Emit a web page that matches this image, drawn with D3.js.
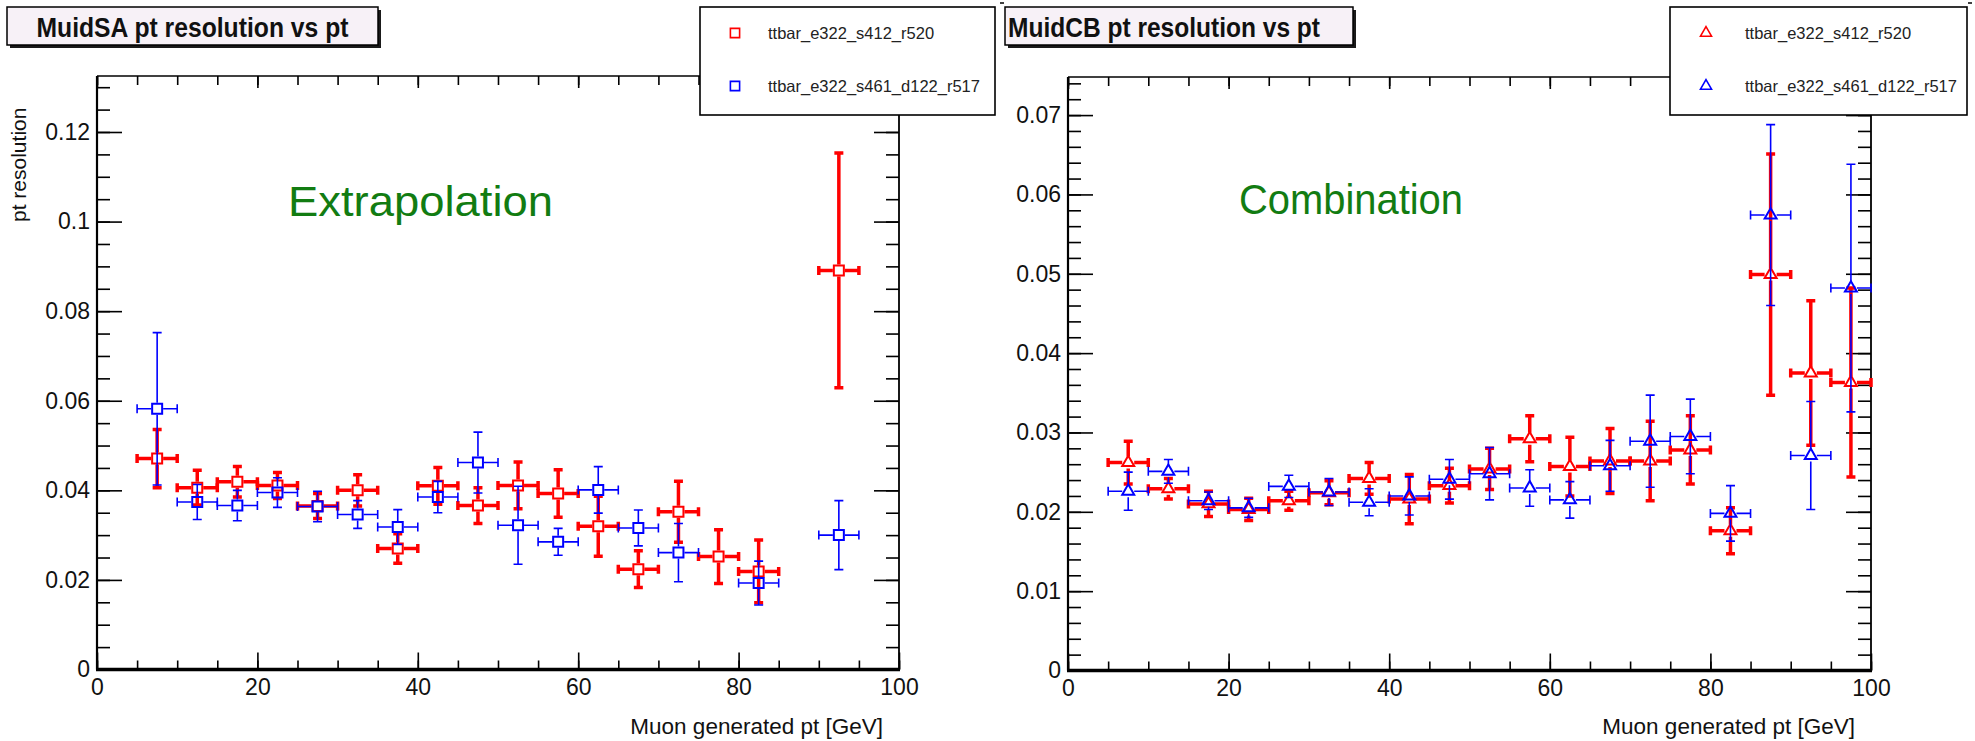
<!DOCTYPE html>
<html lang="en">
<head>
  <meta charset="UTF-8">
  <title>Muid pt resolution vs pt</title>
  <script src="https://cdn.jsdelivr.net/npm/d3@7"></script>
  <style>
    body { margin: 0; background: #fff; }
    svg { display: block; }
    text { font-family: "Liberation Sans", Arial, sans-serif; }
  </style>
</head>
<body>
<svg id="chart" width="1975" height="741"></svg>
<script>
  // bins of 5 GeV, centres from 7.5 to 97.5
  var binCenters = [7.5, 12.5, 17.5, 22.5, 27.5, 32.5, 37.5, 42.5, 47.5, 52.5, 57.5, 62.5, 67.5, 72.5, 77.5, 82.5, 87.5, 92.5, 97.5];
  var binHalfWidth = 2.5;

  var seriesNames = ["ttbar_e322_s412_r520", "ttbar_e322_s461_d122_r517"];
  var titles = ["MuidSA pt resolution vs pt", "MuidCB pt resolution vs pt"];
  var notes = ["Extrapolation", "Combination"];
  var xLabel = "Muon generated pt [GeV]";
  var yLabel = "pt resolution";

  var xTicks = [0, 20, 40, 60, 80, 100];
  var saYTicks = [0, 0.02, 0.04, 0.06, 0.08, 0.1, 0.12];
  var cbYTicks = [0, 0.01, 0.02, 0.03, 0.04, 0.05, 0.06, 0.07];

  // MuidSA (left)
  var saRedVal = [0.0471, 0.0406, 0.0419, 0.0411, 0.0365, 0.0400, 0.0270, 0.0410, 0.0366, 0.0411, 0.0393, 0.0320, 0.0224, 0.0352, 0.0252, 0.0219, null, 0.0891, null];
  var saRedErr = [0.0065, 0.0039, 0.0034, 0.0029, 0.0028, 0.0035, 0.0033, 0.0041, 0.0040, 0.0052, 0.0053, 0.0067, 0.0041, 0.0068, 0.0060, 0.0070, null, 0.0262, null];
  var saBlueVal = [0.0582, 0.0374, 0.0366, 0.0395, 0.0364, 0.0346, 0.0318, 0.0385, 0.0462, 0.0322, 0.0285, 0.0401, 0.0316, 0.0261, null, 0.0193, null, 0.0300, null];
  var saBlueErr = [0.0170, 0.0039, 0.0034, 0.0033, 0.0034, 0.0031, 0.0039, 0.0035, 0.0068, 0.0087, 0.0030, 0.0052, 0.0040, 0.0065, null, 0.0049, null, 0.0077, null];

  // MuidCB (right)
  var cbRedVal = [0.0262, 0.0229, 0.0210, 0.0203, 0.0214, 0.0224, 0.0242, 0.0216, 0.0233, 0.0254, 0.0292, 0.0257, 0.0264, 0.0264, 0.0278, 0.0176, 0.0499, 0.0375, 0.0363];
  var cbRedErr = [0.0027, 0.0013, 0.0016, 0.0014, 0.0012, 0.0015, 0.0020, 0.0031, 0.0022, 0.0026, 0.0029, 0.0037, 0.0041, 0.0050, 0.0043, 0.0029, 0.0152, 0.0091, 0.0119];
  var cbBlueVal = [0.0226, 0.0251, 0.0214, 0.0205, 0.0232, 0.0225, 0.0212, 0.0220, 0.0241, 0.0248, 0.0230, 0.0215, 0.0258, 0.0289, 0.0295, 0.0198, 0.0574, 0.0271, 0.0482];
  var cbBlueErr = [0.0024, 0.0015, 0.0011, 0.0012, 0.0014, 0.0017, 0.0017, 0.0024, 0.0025, 0.0033, 0.0023, 0.0023, 0.0032, 0.0058, 0.0047, 0.0035, 0.0114, 0.0068, 0.0156];

  var RED = "#ff0000", BLUE = "#0000ff";

  var svg = d3.select("#chart");
  svg.append("rect").attr("width", 1975).attr("height", 741).attr("fill", "#fff");

  var panels = [
    {
      left: 97, right: 899, top: 76, bottom: 669.5, yMax: 0.1325, yMinor: 0.005, yTicks: saYTicks,
      symbol: d3.symbolSquare, symSize: 100,
      series: [[saRedVal, saRedErr, RED, 3.5], [saBlueVal, saBlueErr, BLUE, 1.6]],
      title: titles[0], titleBox: [7, 378], titleAnchor: "middle",
      legend: [700, 995], legMarker: 35, legText: 68,
      note: notes[0], noteX: 288, noteY: 216, noteLen: 265, yLabel: true
    },
    {
      left: 1068, right: 1871, top: 77, bottom: 670.5, yMax: 0.0748, yMinor: 0.002, yTicks: cbYTicks,
      symbol: d3.symbolTriangle, symSize: 62,
      series: [[cbRedVal, cbRedErr, RED, 3.5], [cbBlueVal, cbBlueErr, BLUE, 1.6]],
      title: titles[1], titleBox: [1005, 1353], titleAnchor: "start",
      legend: [1670, 1967], legMarker: 36, legText: 75,
      note: notes[1], noteX: 1239, noteY: 214, noteLen: 224, yLabel: false
    }
  ];

  function styleAxis(sel) {
    sel.select(".domain").remove();
    sel.selectAll("line").attr("stroke", "#000").attr("stroke-width", 1.6);
    sel.attr("font-size", 23).attr("font-family", "Liberation Sans, Arial, sans-serif");
    sel.selectAll("text").attr("fill", "#111");
    return sel;
  }

  function drawPanel(p) {
    var x = d3.scaleLinear().domain([0, 100]).range([p.left, p.right]);
    var y = d3.scaleLinear().domain([0, p.yMax]).range([p.bottom, p.top]);
    var g = svg.append("g");

    var yMinorTicks = d3.range(0, Math.floor(p.yMax / p.yMinor + 1e-6) + 1).map(function (i) { return +(i * p.yMinor).toFixed(4); });
    var xMinorTicks = d3.range(0, 101, 5);
    var fmt = d3.format("~g");

    // ticks pointing into the frame, on all four sides
    g.append("g").attr("transform", "translate(" + p.left + ",0)")
      .call(d3.axisLeft(y).tickValues(yMinorTicks).tickSize(-13).tickFormat("")).call(styleAxis);
    g.append("g").attr("transform", "translate(" + p.left + ",0)")
      .call(d3.axisLeft(y).tickValues(p.yTicks).tickSize(-25).tickPadding(7).tickFormat(fmt)).call(styleAxis);
    g.append("g").attr("transform", "translate(" + p.right + ",0)")
      .call(d3.axisRight(y).tickValues(yMinorTicks).tickSize(-13).tickFormat("")).call(styleAxis);
    g.append("g").attr("transform", "translate(" + p.right + ",0)")
      .call(d3.axisRight(y).tickValues(p.yTicks).tickSize(-25).tickFormat("")).call(styleAxis);
    g.append("g").attr("transform", "translate(0," + p.bottom + ")")
      .call(d3.axisBottom(x).tickValues(xMinorTicks).tickSize(-9).tickFormat("")).call(styleAxis);
    g.append("g").attr("transform", "translate(0," + p.bottom + ")")
      .call(d3.axisBottom(x).tickValues(xTicks).tickSize(-17).tickPadding(9).tickFormat(fmt)).call(styleAxis);
    g.append("g").attr("transform", "translate(0," + p.top + ")")
      .call(d3.axisTop(x).tickValues(xMinorTicks).tickSize(-9).tickFormat("")).call(styleAxis);
    g.append("g").attr("transform", "translate(0," + p.top + ")")
      .call(d3.axisTop(x).tickValues(xTicks).tickSize(-12).tickFormat("")).call(styleAxis);

    // frame
    g.append("line").attr("x1", p.left).attr("x2", p.right).attr("y1", p.top).attr("y2", p.top)
      .attr("stroke", "#000").attr("stroke-width", 1.6);
    g.append("line").attr("x1", p.right).attr("x2", p.right).attr("y1", p.top).attr("y2", p.bottom)
      .attr("stroke", "#000").attr("stroke-width", 1.8);
    g.append("line").attr("x1", p.left).attr("x2", p.left).attr("y1", p.top).attr("y2", p.bottom)
      .attr("stroke", "#000").attr("stroke-width", 2.2);
    g.append("line").attr("x1", p.left - 1).attr("x2", p.right + 1).attr("y1", p.bottom).attr("y2", p.bottom)
      .attr("stroke", "#000").attr("stroke-width", 3.6);

    // axis titles
    g.append("text").attr("x", p.right - 16).attr("y", 734).attr("text-anchor", "end")
      .attr("font-size", 22.5).attr("fill", "#111").text(xLabel);
    if (p.yLabel) {
      g.append("text").attr("transform", "translate(26,222) rotate(-90)")
        .attr("font-size", 21).attr("fill", "#111").text(yLabel);
    }

    // error bars with a gap round the marker, then hollow markers
    var gap = 6, cap = 4.5;
    p.series.forEach(function (s) {
      var pts = binCenters.map(function (c, i) { return { c: c, v: s[0][i], e: s[1][i] }; })
        .filter(function (d) { return d.v != null; });
      g.append("g").selectAll("path").data(pts).join("path")
        .attr("fill", "none").attr("stroke", s[2]).attr("stroke-width", s[3])
        .attr("d", function (d) {
          var cx = x(d.c), cy = y(d.v);
          var xl = x(Math.max(d.c - binHalfWidth, 0)), xr = x(Math.min(d.c + binHalfWidth, 100));
          var yt = y(d.v + d.e), yb = y(d.v - d.e);
          var path = d3.path();
          function seg(x1, y1, x2, y2) { path.moveTo(x1, y1); path.lineTo(x2, y2); }
          seg(xl, cy, cx - gap, cy);
          seg(cx + gap, cy, xr, cy);
          if (cy - gap > yt) seg(cx, yt, cx, cy - gap);
          if (cy + gap < yb) seg(cx, cy + gap, cx, yb);
          seg(xl, cy - cap, xl, cy + cap);
          seg(xr, cy - cap, xr, cy + cap);
          seg(cx - cap, yt, cx + cap, yt);
          seg(cx - cap, yb, cx + cap, yb);
          return path.toString();
        });
      g.append("g").selectAll("path").data(pts).join("path")
        .attr("transform", function (d) { return "translate(" + x(d.c) + "," + y(d.v) + ")"; })
        .attr("d", d3.symbol().type(p.symbol).size(p.symSize))
        .attr("fill", "none").attr("stroke", s[2]).attr("stroke-width", 2);
    });

    // legend
    var lg = svg.append("g");
    lg.append("rect").attr("x", p.legend[0]).attr("y", 7).attr("width", p.legend[1] - p.legend[0]).attr("height", 108)
      .attr("fill", "#fff").attr("stroke", "#000").attr("stroke-width", 1.6);
    var rows = [{ name: seriesNames[0], color: RED, y: 33 }, { name: seriesNames[1], color: BLUE, y: 86 }];
    lg.selectAll("path").data(rows).join("path")
      .attr("transform", function (d) { return "translate(" + (p.legend[0] + p.legMarker) + "," + d.y + ")"; })
      .attr("d", d3.symbol().type(p.symbol).size(p.symSize * 0.85))
      .attr("fill", "none").attr("stroke", function (d) { return d.color; }).attr("stroke-width", 1.6);
    lg.selectAll("text").data(rows).join("text")
      .attr("x", p.legend[0] + p.legText).attr("y", function (d) { return d.y + 6; })
      .attr("font-size", 16.5).attr("fill", "#222").text(function (d) { return d.name; });

    // title box with shadow
    var tg = svg.append("g");
    var bx = p.titleBox[0], bw = p.titleBox[1] - p.titleBox[0];
    tg.append("rect").attr("x", bx + 3).attr("y", 10).attr("width", bw).attr("height", 38).attr("fill", "#1a1a1a");
    tg.append("rect").attr("x", bx).attr("y", 7).attr("width", bw).attr("height", 38)
      .attr("fill", "#f7f1f7").attr("stroke", "#000").attr("stroke-width", 1.5);
    tg.append("text")
      .attr("x", p.titleAnchor === "middle" ? bx + bw / 2 : bx + 3).attr("y", 37)
      .attr("text-anchor", p.titleAnchor).attr("font-size", 28).attr("font-weight", "bold")
      .attr("textLength", 312).attr("lengthAdjust", "spacingAndGlyphs")
      .attr("fill", "#111").text(p.title);

    // annotation
    svg.append("text").attr("x", p.noteX).attr("y", p.noteY)
      .attr("font-family", "Open Sans, sans-serif").attr("font-size", 42).attr("fill", "#127c12")
      .attr("textLength", p.noteLen).attr("lengthAdjust", "spacingAndGlyphs")
      .text(p.note);
  }

  panels.forEach(drawPanel);

  // the two stray marks along the top edge
  svg.append("line").attr("x1", 1000).attr("x2", 1004).attr("y1", 3).attr("y2", 3).attr("stroke", "#000").attr("stroke-width", 1.5);
  svg.append("line").attr("x1", 1968).attr("x2", 1972).attr("y1", 3).attr("y2", 3).attr("stroke", "#000").attr("stroke-width", 1.5);
</script>
</body>
</html>
